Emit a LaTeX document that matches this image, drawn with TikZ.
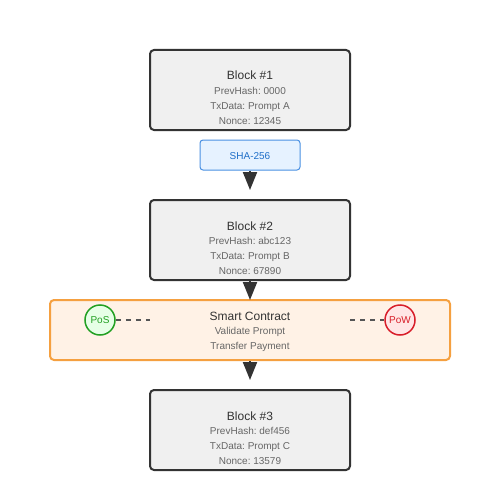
\documentclass[tikz,border=0pt]{standalone}
\usepackage{fontspec}
\setmainfont{Liberation Sans}
\frenchspacing
\usetikzlibrary{arrows.meta}
\definecolor{dark}{HTML}{333333}
\definecolor{sub}{HTML}{666666}
\definecolor{blockfill}{HTML}{F0F0F0}
\definecolor{shafill}{HTML}{E6F2FF}
\definecolor{shaline}{HTML}{4A90E2}
\definecolor{shatext}{HTML}{1F6FC8}
\definecolor{scfill}{HTML}{FFF2E6}
\definecolor{scline}{HTML}{F5A040}
\definecolor{posfill}{HTML}{E6FFE6}
\definecolor{posline}{HTML}{22A022}
\definecolor{powfill}{HTML}{FFE6E6}
\definecolor{powline}{HTML}{D81E2A}
\definecolor{dashc}{HTML}{555555}
\begin{document}
\begin{tikzpicture}[x=1pt,y=-1pt,
  blockbox/.style={draw=dark,line width=2pt,fill=blockfill,rounded corners=4pt,minimum width=200pt,minimum height=80pt,inner sep=0pt},
  shabox/.style={draw=shaline,line width=1pt,fill=shafill,rounded corners=3pt,minimum width=100pt,minimum height=30pt,inner sep=0pt},
  scbox/.style={draw=scline,line width=2pt,fill=scfill,rounded corners=4pt,minimum width=400pt,minimum height=60pt,inner sep=0pt},
  title/.style={anchor=base,font=\fontsize{12}{14}\selectfont,text=dark,inner sep=0pt},
  line/.style={anchor=base,font=\fontsize{10}{12}\selectfont,text=sub,inner sep=0pt},
  cons/.style={circle,line width=1.5pt,minimum size=30pt,inner sep=0pt,font=\fontsize{10}{12}\selectfont},
  arr/.style={draw=dark,line width=2pt,-{Triangle[length=18pt,width=14pt]}},
  dashl/.style={draw=dashc,line width=1.5pt,dash pattern=on 5pt off 5pt}
]
\useasboundingbox (0,0) rectangle (500,500);
\fill[white] (0,0) rectangle (500,500);

\node[blockbox] (b1) at (250,90) {};
\node[title] (b1t) at (250,80) {Block \#1};
\node[line] (b1a) at (250,94.6) {PrevHash: 0000};
\node[line] (b1b) at (250,109.6) {TxData: Prompt A};
\node[line] (b1c) at (250,124.6) {Nonce: 12345};

\node[shabox] (sha) at (250,155) {};
\node[anchor=base,inner sep=0pt,font=\fontsize{10}{12}\selectfont,text=shatext] (shat) at (250,159.6) {SHA-256};

\node[blockbox] (b2) at (250,240) {};
\node[title] (b2t) at (250,230) {Block \#2};
\node[line] (b2a) at (250,244.6) {PrevHash: abc123};
\node[line] (b2b) at (250,259.6) {TxData: Prompt B};
\node[line] (b2c) at (250,274.6) {Nonce: 67890};

\node[scbox] (sc) at (250,330) {};
\node[title] (sct) at (250,320) {Smart Contract};
\node[line] (sca) at (250,334.6) {Validate Prompt};
\node[line] (scb) at (250,349.6) {Transfer Payment};

\node[cons,draw=posline,fill=posfill,text=posline] (pos) at (100,320) {PoS};
\node[cons,draw=powline,fill=powfill,text=powline] (pow) at (400,320) {PoW};
\coordinate (posend) at (150,320);
\coordinate (powend) at (350,320);
\draw[dashl] (pos.east) -- (posend);
\draw[dashl] (powend) -- (pow.west);

\node[blockbox] (b3) at (250,430) {};
\node[title] (b3t) at (250,420) {Block \#3};
\node[line] (b3a) at (250,434.6) {PrevHash: def456};
\node[line] (b3b) at (250,449.6) {TxData: Prompt C};
\node[line] (b3c) at (250,464.6) {Nonce: 13579};

\draw[arr,shorten >=9pt] (sha.south) -- (b2.north);
\draw[arr,shorten >=-1pt] (b2.south) -- (sc.north);
\draw[arr,shorten >=9pt] (sc.south) -- (b3.north);
\end{tikzpicture}
\end{document}
